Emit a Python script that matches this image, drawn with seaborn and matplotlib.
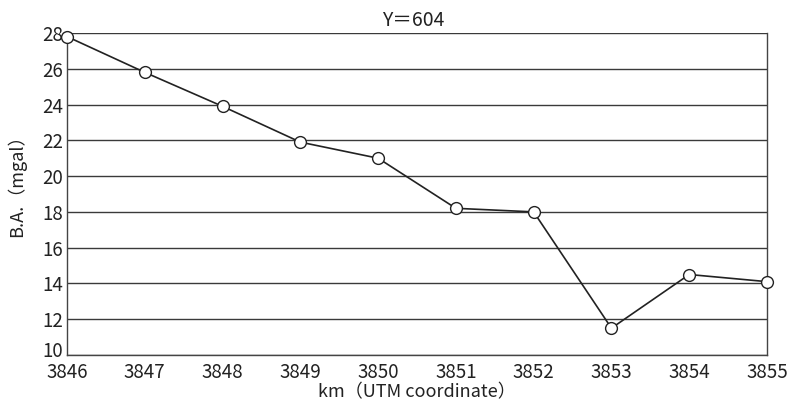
import matplotlib
matplotlib.use("Agg")
import matplotlib.pyplot as plt
import matplotlib.transforms as mtransforms
import seaborn as sns
import pandas as pd

km = [3846, 3847, 3848, 3849, 3850, 3851, 3852, 3853, 3854, 3855]
ba = [27.8, 25.8, 23.9, 21.9, 21.0, 18.2, 18.0, 11.5, 14.5, 14.1]
yticks = [10, 12, 14, 16, 18, 20, 22, 24, 26, 28]

sns.set_style("white")
plt.rcParams['font.family'] = ['Noto Sans CJK JP', 'DejaVu Sans']

df = pd.DataFrame({"km": km, "ba": ba})
fig = plt.figure(figsize=(7.95, 4.09), dpi=100)
ax = fig.add_axes([67/795, 54/409, 700/795, 322/409])

for y in yticks:
    ax.axhline(y, color="#3a3a3a", lw=1.0, zorder=1)

sns.lineplot(data=df, x="km", y="ba", ax=ax, color="#222222", lw=1.2,
             marker="o", markersize=8.5, markerfacecolor="white",
             markeredgecolor="#222222", markeredgewidth=1.0, zorder=3, clip_on=False)

ax.set_xlim(3846, 3855)
ax.set_ylim(10, 28)
ax.set_xticks(km)
ax.set_yticks(yticks)
ax.tick_params(axis="x", direction="in", length=6, width=1, color="#444444",
               labelsize=13.5, pad=5, labelcolor="#222222")
ax.tick_params(axis="y", length=0, labelsize=13.5, pad=3, labelcolor="#222222")
fig.canvas.draw()
ylabels = ax.get_yticklabels()
ylabels[0].set_transform(ylabels[0].get_transform() +
                         mtransforms.ScaledTranslation(0, 6/100, fig.dpi_scale_trans))
for s in ["left", "bottom", "right"]:
    ax.spines[s].set_visible(True)
    ax.spines[s].set_color("#444444")
    ax.spines[s].set_linewidth(1.0)
ax.spines["top"].set_visible(False)

ax.set_xlabel("km（UTM coordinate）", fontsize=13, color="#222222", labelpad=0)
ax.set_ylabel("B.A.（mgal）", fontsize=13, color="#222222")
ax.yaxis.set_label_coords(-0.058, 0.54)
ax.set_title("Y＝604", fontsize=14, color="#222222", pad=5, x=0.494)

fig.savefig("out.png", dpi=100)
